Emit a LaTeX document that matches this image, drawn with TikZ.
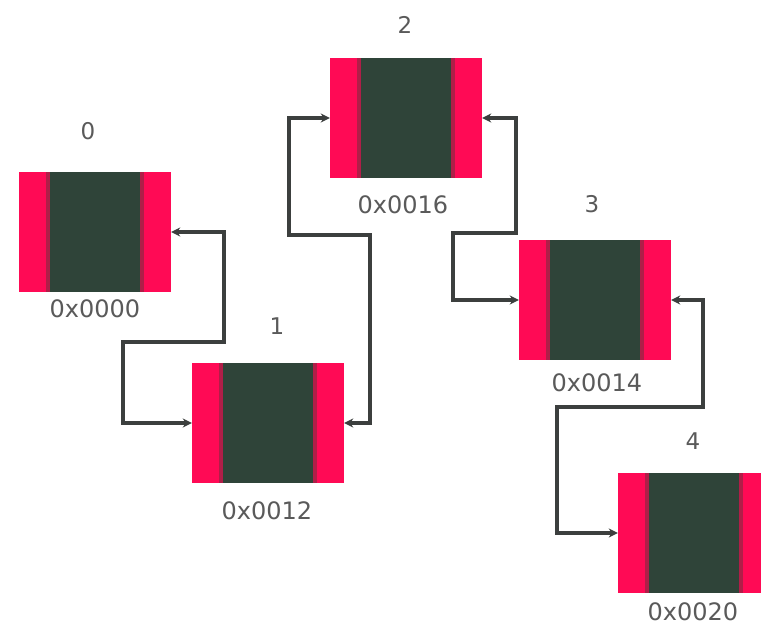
\documentclass[tikz,border=0pt]{standalone}
\usepackage{fontspec}
\setmainfont{DejaVu Sans}
\usetikzlibrary{arrows.meta}
\definecolor{cellred}{HTML}{FF0A55}
\definecolor{celledge}{HTML}{B01E48}
\definecolor{celldark}{HTML}{2F4439}
\definecolor{wire}{HTML}{3C3F3E}
\definecolor{txt}{HTML}{5A5A5A}
\tikzset{
  cell/.style={minimum width=152pt, minimum height=120pt, inner sep=0pt,
    fill=celldark,
    path picture={
      \fill[cellred] (path picture bounding box.south west) rectangle
        ([xshift=29pt]path picture bounding box.north west);
      \fill[cellred] ([xshift=-29pt]path picture bounding box.south east) rectangle
        (path picture bounding box.north east);
      \fill[celledge] ([xshift=27pt]path picture bounding box.south west) rectangle
        ([xshift=31pt]path picture bounding box.north west);
      \fill[celledge] ([xshift=-31pt]path picture bounding box.south east) rectangle
        ([xshift=-27pt]path picture bounding box.north east);
    }},
  idx/.style={text=txt, font=\fontsize{23pt}{25pt}\selectfont, inner sep=0pt},
  addr/.style={text=txt, font=\fontsize{24pt}{26pt}\selectfont, inner sep=0pt},
  link/.style={draw=wire, line width=3.3pt,
    {Stealth[length=9pt,width=9pt]}-{Stealth[length=9pt,width=9pt]}},
}
\begin{document}
\begin{tikzpicture}[x=1pt, y=-1pt]
\useasboundingbox (0,0) rectangle (761,627);
\clip (0,0) rectangle (761,627);
\fill[white] (0,0) rectangle (761,627);

% list cells
\node[cell] (n0) at (95,232) {};
\node[cell] (n1) at (268,423) {};
\node[cell] (n2) at (406,118) {};
\node[cell] (n3) at (595,300) {};
\node[cell] (n4) at (694,533) {};

% indices
\node[idx] (i0) at (88,131) {0};
\node[idx] (i1) at (277,326) {1};
\node[idx] (i2) at (405,25) {2};
\node[idx] (i3) at (592,204) {3};
\node[idx] (i4) at (693,441) {4};

% addresses
\node[addr] (a0) at (95,309) {0x0000};
\node[addr] (a1) at (267,511) {0x0012};
\node[addr] (a2) at (403,205) {0x0016};
\node[addr] (a3) at (597,383) {0x0014};
\node[addr] (a4) at (693,612) {0x0020};

% bend points of the links
\coordinate (b01a) at (224,342);
\coordinate (b01b) at (123,423);
\coordinate (b12a) at (370,235);
\coordinate (b12b) at (289,118);
\coordinate (b23a) at (516,233);
\coordinate (b23b) at (453,300);
\coordinate (b34a) at (703,407);
\coordinate (b34b) at (557,533);

% prev/next links
\draw[link] (n0.east) -| (b01a) -| (b01b) -- (n1.west);
\draw[link] (n1.east) -| (b12a) -| (b12b) -- (n2.west);
\draw[link] (n2.east) -| (b23a) -| (b23b) -- (n3.west);
\draw[link] (n3.east) -| (b34a) -| (b34b) -- (n4.west);
\end{tikzpicture}
\end{document}
